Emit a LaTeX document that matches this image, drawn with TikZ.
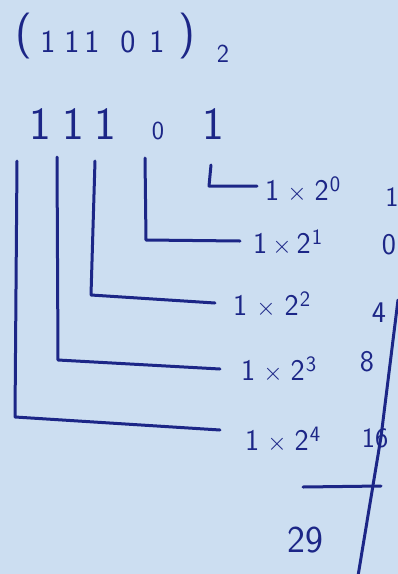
\documentclass[tikz,border=0pt]{standalone}
\usepackage{tikz}
\definecolor{paper}{RGB}{204,222,241}
\definecolor{ink}{RGB}{28,38,135}
\tikzset{
  ink/.style={draw=ink, line width=3pt, line cap=round, line join=round},
  hw/.style={text=ink, inner sep=1pt, font=\sffamily\fontsize{#1}{#1}\selectfont},
  lbl/.style={text=ink, inner sep=1pt, anchor=west, font=\sffamily\fontsize{30}{32}\selectfont},
}
\newcommand{\lab}[2]{1\hspace{#2}$\times$\hspace{#2}2\hspace{1pt}\raisebox{9pt}{\fontsize{22}{22}\selectfont #1}}
\begin{document}
\begin{tikzpicture}[x=1pt,y=-1pt]
\fill[paper] (0,0) rectangle (398,574);
\useasboundingbox (0,0) rectangle (398,574);
% title (11101)_2
\node[hw=46] (p1) at (24,36) {(};
\node[hw=32] (a1) at (48,42) {1};
\node[hw=32] (a2) at (72,42) {1};
\node[hw=32] (a3) at (92,42) {1};
\node[hw=32] (a4) at (128,42) {0};
\node[hw=32] (a5) at (157,42) {1};
\node[hw=46] (p2) at (187,36) {)};
\node[hw=26] (base) at (223,54) {2};
% digits row
\node[hw=46] (d4) at (40,124) {1};
\node[hw=46] (d3) at (73,124) {1};
\node[hw=46] (d2) at (105,124) {1};
\node[hw=26] (d1) at (158,131) {0};
\node[hw=46] (d0) at (213,124) {1};
% labels
\node[lbl] (t0) at (264,190) {\lab{0}{8pt}};
\node[lbl] (t1) at (252,243) {\lab{1}{5pt}};
\node[lbl] (t2) at (232,305) {\lab{2}{9pt}};
\node[lbl] (t3) at (240,370) {\lab{3}{8pt}};
\node[lbl] (t4) at (244,440) {\lab{4}{8pt}};
% values
\node[hw=28] (v0) at (392,197) {1};
\node[hw=30] (v1) at (389,245) {0};
\node[hw=30] (v2) at (379,313) {4};
\node[hw=30] (v3) at (367,362) {8};
\node[hw=28] (v4) at (375,438) {16};
\node[hw=38] (sum) at (305,540) {29};
% connectors
\coordinate (e0a) at (211,165); \coordinate (e0b) at (209,186);
\coordinate (e1a) at (145,158); \coordinate (e1b) at (146,240);
\coordinate (e2a) at (95,161);  \coordinate (e2b) at (91,295);
\coordinate (e3a) at (57,157);  \coordinate (e3b) at (58,360);
\coordinate (e4a) at (17,161);  \coordinate (e4b) at (15,417);
\draw[ink] (e0a) -- (e0b) -- ([xshift=-7pt,yshift=4pt]t0.west);
\draw[ink] (e1a) -- (e1b) -- ([xshift=-12pt,yshift=2pt]t1.west);
\draw[ink] (e2a) -- (e2b) -- ([xshift=-17pt,yshift=2pt]t2.west);
\draw[ink] (e3a) -- (e3b) -- ([xshift=-20pt,yshift=1pt]t3.west);
\draw[ink] (e4a) -- (e4b) -- ([xshift=-24pt,yshift=10pt]t4.west);
% right bar and sum line
\coordinate (r0) at (398,300); \coordinate (r1) at (381,437); \coordinate (r2) at (358,576);
\draw[ink] (r0) -- (r1) -- (r2);
\coordinate (s0) at (303,487); \coordinate (s1) at (381,486);
\draw[ink] (s0) -- (s1);
\end{tikzpicture}
\end{document}
